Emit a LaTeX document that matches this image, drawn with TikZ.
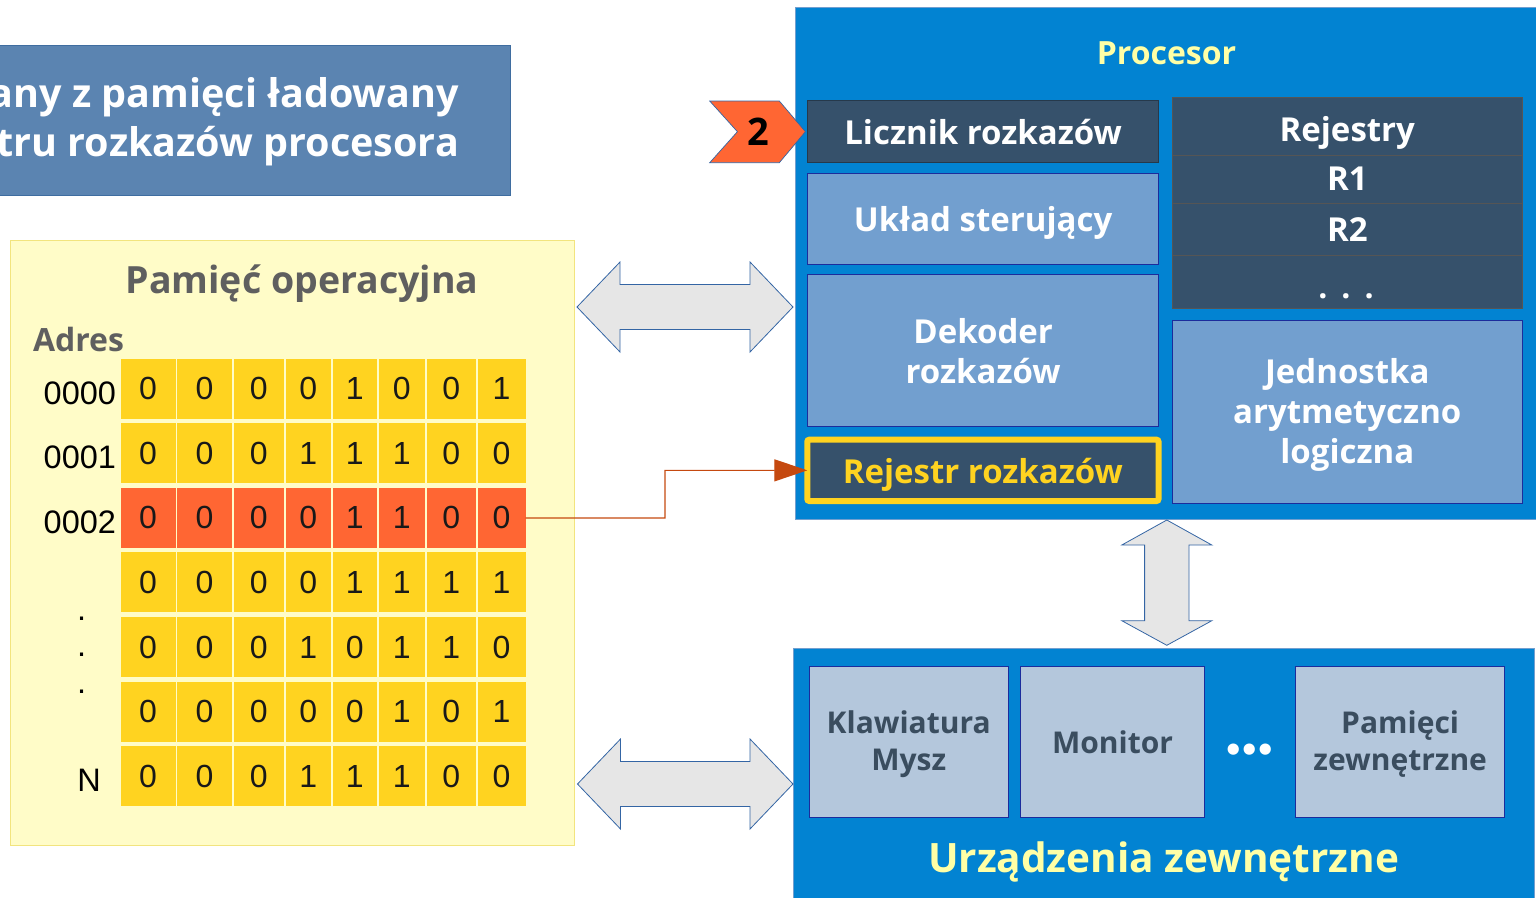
\documentclass[tikz,border=0pt]{standalone}
\usepackage{fontspec}
\setmainfont{Open Sans}
\newfontfamily\cellfont{Liberation Sans}
\newfontfamily\symfont{DejaVu Sans}
\usetikzlibrary{arrows.meta}

\definecolor{procblue}{HTML}{0283D2}
\definecolor{slate}{HTML}{36516B}
\definecolor{lightblue}{HTML}{729FCF}
\definecolor{navy}{HTML}{1C2C9C}
\definecolor{cellyellow}{HTML}{FFD320}
\definecolor{cellred}{HTML}{FF6633}
\definecolor{memfill}{HTML}{FFFCC8}
\definecolor{memborder}{HTML}{F2E47E}
\definecolor{arrowfill}{HTML}{E6E6E6}
\definecolor{arrowline}{HTML}{3465A4}
\definecolor{paleyellow}{HTML}{FFFFA6}
\definecolor{devfill}{HTML}{B4C7DC}
\definecolor{devtext}{HTML}{3A4D5F}
\definecolor{graytext}{HTML}{5F5F5F}
\definecolor{conn}{HTML}{C5490F}
\definecolor{titlefill}{HTML}{5B84B1}
\definecolor{titleline}{HTML}{3F6DA0}
\definecolor{regline}{HTML}{555555}

% rectangular block given by its corners: [style]{name}{x1}{y1}{x2}{y2}{text}
\newcommand\blk[7][]{\node[#1, minimum width={#5-#3}, minimum height={#6-#4}]
  (#2) at ({(#3+#5)/2},{(#4+#6)/2}) {#7};}
% horizontal double block arrow: {x tip left}{x tip right}{y centre}
\newcommand\dblH[3]{\draw[bigarrow] (#1,#3) -- (#1+43,#3-45) -- (#1+43,#3-22.5)
  -- (#2-43,#3-22.5) -- (#2-43,#3-45) -- (#2,#3) -- (#2-43,#3+45) -- (#2-43,#3+22.5)
  -- (#1+43,#3+22.5) -- (#1+43,#3+45) -- cycle;}

\begin{document}
\begin{tikzpicture}[x=1pt,y=-1pt,
  every node/.style={inner sep=0pt, outer sep=0pt},
  boxfont/.style={font=\bfseries\fontsize{33}{40}\selectfont},
  oneline/.style={text height=26pt, text depth=0pt},
  procbox/.style={fill=procblue, draw=lightblue, line width=0.8pt},
  darkbox/.style={fill=slate, draw=slate!70!black, line width=0.8pt, text=white, boxfont, oneline},
  regbox/.style={fill=slate, draw=regline, line width=0.8pt, text=white, boxfont, oneline},
  unitbox/.style={fill=lightblue, draw=navy, line width=0.9pt, text=white, align=center, boxfont},
  unittext/.style={text=white, align=center, boxfont},
  devbox/.style={fill=devfill, draw=navy, line width=0.9pt, text=devtext, align=center,
    font=\bfseries\fontsize{30}{37}\selectfont},
  devtext/.style={text=devtext, align=center, font=\bfseries\fontsize{30}{37}\selectfont},
  cell/.style={text=black!90, font=\cellfont\fontsize{32}{36}\selectfont},
  addr/.style={text=black, font=\cellfont\fontsize{32.5}{36}\selectfont},
  bigarrow/.style={fill=arrowfill, draw=arrowline, line width=0.8pt, line join=miter},
  connector/.style={draw=conn, line width=1.2pt, -{Triangle[length=33pt,width=22pt]}},
]
\useasboundingbox (0,0) rectangle (1536,897);
\clip (0,0) rectangle (1536,897);

% caption box (runs off the left edge)
\blk[fill=titlefill, draw=titleline, line width=0.8pt]{title}{-10}{45}{510}{195}{}
\node[anchor=base east, text=white, font=\bfseries\fontsize{39.5}{48}\selectfont] (t1) at (459,107) {any z pamięci ładowany};
\node[anchor=base east, text=white, font=\bfseries\fontsize{39.5}{48}\selectfont] (t2) at (459,156) {tru rozkazów procesora};

% main memory
\blk[fill=memfill, draw=memborder, line width=0.9pt]{mem}{10}{240}{574}{845}{}
\node[anchor=base, text=graytext, font=\bfseries\fontsize{37.5}{40}\selectfont] (memtitle) at (302,293.5) {Pamięć operacyjna};
\node[anchor=base west, text=graytext, font=\bfseries\fontsize{32}{36}\selectfont] (adres) at (33,351.5) {Adres};

\foreach \bits [count=\r from 0] in {{0,0,0,0,1,0,0,1},{0,0,0,1,1,1,0,0},{0,0,0,0,1,1,0,0},
    {0,0,0,0,1,1,1,1},{0,0,0,1,0,1,1,0},{0,0,0,0,0,1,0,1},{0,0,0,1,1,1,0,0}}{
  \ifnum\r=2 \def\cf{cellred}\else\def\cf{cellyellow}\fi
  \pgfmathsetmacro\yt{358.8+64.55*\r}
  \foreach \d [count=\c from 1] in \bits {
    \pgfmathsetmacro\xl{{120.5,177,233.5,285.5,332.5,378.5,426.5,477.5}[\c-1]}
    \pgfmathsetmacro\xr{{175.5,232,284,331,377,425,476,525.5}[\c-1]}
    \blk[cell, fill=\cf]{cell-\r-\c}{\xl}{\yt}{\xr}{\yt+60}{\d}
  }
}
\node[addr, anchor=east] (a0) at (116,393) {0000};
\node[addr, anchor=east] (a1) at (116,457.5) {0001};
\node[addr, anchor=east] (a2) at (116,522) {0002};
\node[addr, anchor=base] (d1) at (81.6,620) {.};
\node[addr, anchor=base] (d2) at (81.6,656) {.};
\node[addr, anchor=base] (d3) at (81.6,693) {.};
\node[addr] (an) at (89,780) {N};

% processor
\blk[procbox]{proc}{795.7}{7.3}{1545}{519.3}{}
\node[text=paleyellow, font=\bfseries\fontsize{32}{40}\selectfont] (proctitle) at (1166.5,53) {Procesor};
\blk[darkbox]{pc}{807.6}{100}{1158.7}{162}{Licznik rozkazów}
\blk[unitbox, oneline]{cu}{807.6}{173.3}{1158.7}{264.3}{Układ sterujący}
\blk[unitbox]{dec}{807.6}{274.7}{1158.7}{426.7}{Dekoder\\rozkazów}
\blk[fill=slate, draw=cellyellow, line width=6pt, rounded corners=2pt, text=cellyellow,
  boxfont, oneline]{rr}{807.3}{439.7}{1158.5}{501}{Rejestr rozkazów}

\blk[regbox, text height=30pt]{rhead}{1172}{97.7}{1522.6}{155.3}{Rejestry}
\blk[regbox, text height=22pt]{r1}{1172}{155.3}{1522.6}{203.3}{R1}
\blk[regbox, text height=24.5pt]{r2}{1172}{203.3}{1522.6}{255.7}{R2}
\blk[regbox]{rdots}{1172}{255.7}{1522.6}{308.3}{}
\node[anchor=base, text=white, font=\bfseries\fontsize{32}{40}\selectfont] (rdt) at (1346,298)
  {.\hspace{14pt}.\hspace{14pt}.};
\blk[unitbox]{alu}{1172}{320.7}{1522.6}{503.3}{}
\node[unittext] (alutext) at ([yshift=-3pt]alu.center) {Jednostka\\arytmetyczno\\logiczna};

% step marker
\draw[fill=cellred, draw=arrowline, line width=0.7pt] (709.7,101) -- (779.3,101) -- (805.4,131.7)
  -- (779.3,162.7) -- (709.7,162.7) -- (737.4,131.7) -- cycle;
\node[font=\bfseries\fontsize{38}{40}\selectfont] (step2) at (758,132) {2};

% external devices
\blk[procbox]{io}{793}{648.3}{1534.5}{905}{}
\blk[devbox]{kb}{809}{666.7}{1008.4}{817.7}{}
\node[devtext] (kbtext) at ([yshift=-2pt]kb.center) {Klawiatura\\Mysz};
\blk[devbox]{mon}{1020.3}{666.7}{1204.8}{817.7}{Monitor}
\blk[devbox]{ext}{1295.7}{666.7}{1504.6}{817.7}{}
\node[devtext] (exttext) at ([yshift=-2pt]ext.center) {Pamięci\\zewnętrzne};
\node[text=white, font=\symfont\bfseries\fontsize{32}{36}\selectfont] (iodots) at (1250,753)
  {•\kern-4.5pt•\kern-4.5pt•};
\node[anchor=base, text=paleyellow, font=\bfseries\fontsize{40.5}{44}\selectfont] (iotitle) at (1163.5,872) {Urządzenia zewnętrzne};

% buses
\dblH{577}{793}{307}
\dblH{577.5}{793}{784}
\draw[bigarrow] (1166.8,520) -- (1211.8,545) -- (1189,545) -- (1189,620.7) -- (1211.8,620.7)
  -- (1166.8,645.3) -- (1121.8,620.7) -- (1144.6,620.7) -- (1144.6,545) -- (1121.8,545) -- cycle;

% fetched instruction goes to the instruction register
\coordinate (bend) at (665,518);
\draw[connector] (cell-2-8.east) -- (bend) |- (rr.west);
\end{tikzpicture}
\end{document}
